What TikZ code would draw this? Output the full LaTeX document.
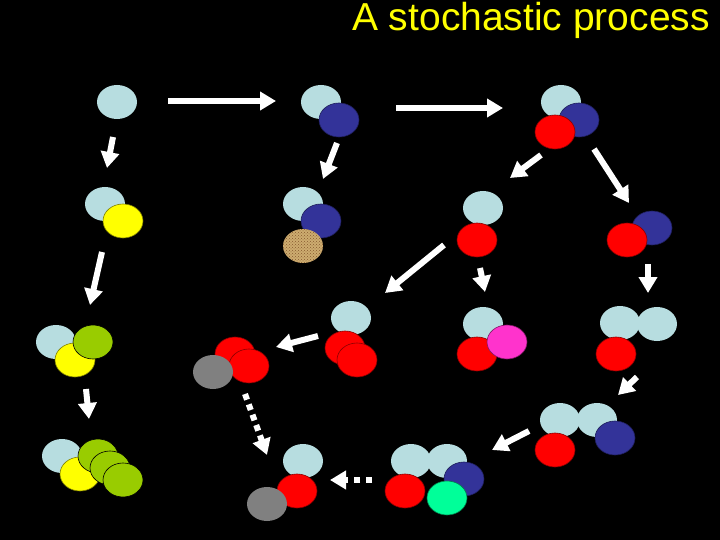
\documentclass[tikz,border=0pt]{standalone}
\usepackage{fontspec}
\setmainfont{Liberation Sans}
\usetikzlibrary{shapes.geometric,arrows.meta,patterns}

\definecolor{titlecol}{RGB}{255,255,0}
\definecolor{icecol}{RGB}{183,221,224}
\definecolor{navycol}{RGB}{51,51,153}
\definecolor{redcol}{RGB}{255,0,0}
\definecolor{yelcol}{RGB}{255,255,0}
\definecolor{limecol}{RGB}{153,204,0}
\definecolor{greycol}{RGB}{128,128,128}
\definecolor{sandcol}{RGB}{205,172,112}
\definecolor{pinkcol}{RGB}{255,51,204}
\definecolor{mintcol}{RGB}{0,255,153}

\tikzset{
  ball/.style={ellipse, minimum width=40pt, minimum height=34pt, inner sep=0pt, line width=0.6pt},
  ballice/.style={ball, fill=icecol},
  ballnavy/.style={ball, fill=navycol, draw=navycol!60!black},
  ballred/.style={ball, fill=redcol, draw=redcol!55!black},
  ballyel/.style={ball, fill=yelcol, draw=yelcol!50!black},
  balllime/.style={ball, fill=limecol, draw=black},
  ballgrey/.style={ball, fill=greycol},
  ballsand/.style={ball, fill=sandcol, postaction={pattern=crosshatch dots, pattern color=brown!70!black}},
  ballpink/.style={ball, fill=pinkcol, draw=pinkcol!50!black},
  ballmint/.style={ball, fill=mintcol, draw=mintcol!50!black},
  flow/.style={draw=white, line width=6pt, -{Triangle[width=18pt,length=16pt]}},
  hop/.style={flow, dash pattern=on 6pt off 6pt},
}

\begin{document}
\begin{tikzpicture}[x=1pt,y=-1pt]
  \fill[black] (0,0) rectangle (720,540);
  \useasboundingbox (0,0) rectangle (720,540);

  % Title
  \node[anchor=base east, inner sep=0pt, text=titlecol,
    font=\fontsize{39}{40}\selectfont]
    (title) at (710,31) {A stochastic process};

  % States (drawn back to front)
  \foreach \n/\x/\y/\c in {
    s1a/117/102/ballice,
    s2a/105/204/ballice, s2b/123/221/ballyel,
    s3a/56/342/ballice, s3b/75/360/ballyel, s3c/93/342/balllime,
    s4a/62/456/ballice, s4b/80/474/ballyel, s4c/98/456/balllime,
    s4d/110/468/balllime, s4e/123/480/balllime,
    t1a/321/102/ballice, t1b/339/120/ballnavy,
    t2a/303/204/ballice, t2b/321/221/ballnavy, t2c/303/246/ballsand,
    u1a/561/102/ballice, u1b/579/120/ballnavy, u1c/555/132/ballred,
    u2a/652/228/ballnavy, u2b/627/240/ballred,
    m1a/483/208/ballice, m1b/477/240/ballred,
    m2a/483/324/ballice, m2b/477/354/ballred, m2c/507/342/ballpink,
    r1a/620/323/ballice, r1b/657/324/ballice, r1c/616/354/ballred,
    r2a/560/420/ballice, r2b/597/420/ballice, r2c/615/438/ballnavy,
    r2d/555/450/ballred,
    b1a/411/461/ballice, b1b/447/461/ballice, b1c/405/491/ballred,
    b1d/464/479/ballnavy, b1e/447/498/ballmint,
    c1a/351/318/ballice, c1b/345/348/ballred, c1c/357/360/ballred,
    k1a/235/354/ballred, k1b/249/366/ballred, k1c/213/372/ballgrey,
    k2a/303/461/ballice, k2b/297/491/ballred, k2c/267/504/ballgrey}
    \node[\c] (\n) at (\x,\y) {};

  % Transitions
  \foreach \n/\xa/\ya/\xb/\yb in {
    h1/168/101/276/101, h2/396/108/503/108,
    d1/113/137/107/168, d2/102/252/90/305, d3/86/389/89/419,
    d4/337/143/323/179, d5/541/155/510/178, d6/594/149/629/203,
    d7/648/264/648/293, d8/444/245/385/293, d9/480/268/485/292,
    d10/637/377/618/395, d11/529/431/492/450, d12/318/336/276/347}
  {
    \coordinate (\n-s) at (\xa,\ya);
    \coordinate (\n-e) at (\xb,\yb);
    \draw[flow] (\n-s) -- (\n-e);
  }

  % Dotted transitions
  \coordinate (p1-s) at (245,394);
  \coordinate (p1-e) at (267,455);
  \draw[hop, dash pattern=on 6pt off 5pt] (p1-s) -- (p1-e);
  \coordinate (p2-s) at (372,480);
  \coordinate (p2-e) at (330,480);
  \draw[hop] (p2-s) -- (p2-e);
\end{tikzpicture}
\end{document}
